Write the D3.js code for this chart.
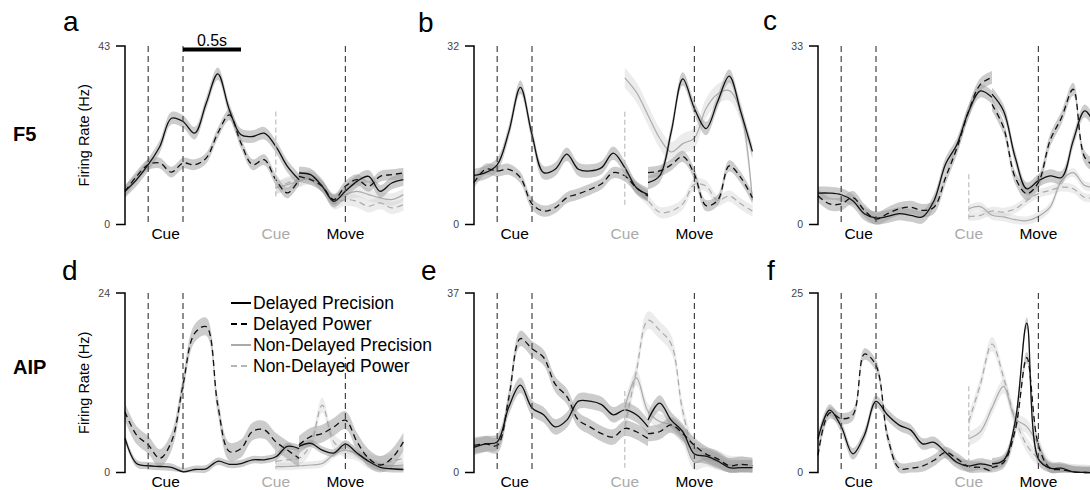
<!DOCTYPE html>
<html>
<head>
<meta charset="utf-8">
<script src="https://cdn.jsdelivr.net/npm/d3@7"></script>
<style>
  body { margin: 0; background: #fff; }
  svg text { font-family: "Liberation Sans", Arial, sans-serif; }
</style>
</head>
<body>
<svg id="chart" width="1090" height="490"></svg>
<script>
// time (s) of samples: cue-aligned delayed segment, move-aligned delayed segment, non-delayed trials
var tCue = [-0.2, -0.1, 0, 0.1, 0.2, 0.3, 0.4, 0.5, 0.6, 0.7, 0.8, 0.9, 1.0, 1.1, 1.2, 1.3];
var tMove = [1.3, 1.4, 1.5, 1.6, 1.7, 1.8, 1.9, 2.0, 2.1, 2.2];
var tNonDelayed = [1.1, 1.2, 1.3, 1.4, 1.5, 1.6, 1.7, 1.8, 1.9, 2.0, 2.1, 2.2];

// event times on the same axis
var cueOn = 0, cueOff = 0.3, nonDelayedCue = 1.1, moveOnset = 1.7;

var panelLetters = ["a", "b", "c", "d", "e", "f"];
var areaNames = ["F5", "AIP"];
var yMaxes = [43, 32, 33, 24, 37, 25];
var legendLabels = ["Delayed Precision", "Delayed Power", "Non-Delayed Precision", "Non-Delayed Power"];

// ---- panel a (F5)
var aDelPrecCue = [8.0, 10.8, 14.4, 18.8, 25.6, 24.8, 22.0, 29.2, 36.3, 27.6, 21.6, 21.2, 22.0, 18.8, 14.0, 10.8];
var aDelPrecMove = [12.4, 12.0, 9.2, 5.6, 8.0, 10.4, 11.6, 8.0, 10.0, 10.8];
var aDelPowCue = [8.0, 11.6, 14.4, 14.8, 12.6, 14.8, 14.4, 16.0, 22.0, 26.4, 19.6, 14.4, 15.6, 10.8, 7.6, 10.8];
var aDelPowMove = [11.6, 10.8, 9.2, 6.0, 9.2, 10.8, 9.2, 11.6, 12.0, 12.4];
var aNonPrec = [8.8, 9.6, 10.4, 11.2, 9.2, 6.0, 7.2, 8.0, 7.2, 6.4, 6.0, 7.2];
var aNonPow = [8.8, 10.0, 10.8, 11.6, 9.6, 5.2, 6.0, 5.6, 4.4, 5.2, 4.0, 4.8];
var aSem = [1.5, 1.3, 1.5, 1.5];
var aCueSpan = [6.0, 27.2];

// ---- panel b (F5)
var bDelPrecCue = [8.8, 9.3, 10.7, 16.6, 24.6, 16.1, 9.3, 9.9, 12.6, 9.9, 9.6, 10.2, 12.8, 10.2, 6.6, 5.4];
var bDelPrecMove = [7.5, 8.7, 16.6, 26.1, 20.8, 17.2, 22.0, 26.6, 20.2, 13.1];
var bDelPowCue = [7.5, 9.9, 9.6, 9.9, 8.4, 3.7, 2.4, 3.0, 4.8, 5.5, 6.3, 7.3, 9.3, 8.7, 6.6, 5.1];
var bDelPowMove = [9.3, 9.6, 10.7, 12.2, 9.0, 3.4, 4.3, 10.5, 8.4, 4.8];
var bNonPrec = [26.3, 23.7, 19.6, 15.5, 13.0, 14.5, 15.5, 20.8, 23.4, 24.0, 20.2, 4.3];
var bNonPow = [9.9, 6.6, 4.3, 2.2, 2.4, 3.7, 7.2, 6.9, 4.3, 5.1, 3.7, 2.4];
var bSem = [1.2, 1.0, 1.8, 1.0];
var bCueSpan = [3.4, 20.2];

// ---- panel c (F5)
var cDelPrecCue = [5.8, 5.8, 5.5, 4.4, 2.0, 1.2, 1.5, 2.0, 1.7, 1.4, 4.4, 11.2, 14.9, 21.0, 24.7, 23.5];
var cDelPrecMove = [24.1, 21.0, 12.4, 6.6, 8.1, 9.0, 8.7, 15.5, 21.0, 17.9];
var cDelPowCue = [5.3, 3.8, 3.8, 5.0, 2.6, 1.0, 2.0, 2.9, 3.2, 2.6, 3.2, 8.7, 14.3, 21.0, 25.9, 27.2];
var cDelPowMove = [22.2, 17.9, 8.7, 5.7, 7.8, 15.5, 19.8, 25.0, 12.4, 10.6];
var cNonPrec = [2.9, 3.3, 1.7, 1.4, 0.9, 0.7, 1.5, 3.2, 8.1, 9.6, 7.2, 6.9];
var cNonPow = [1.5, 1.7, 2.5, 2.3, 2.9, 4.4, 5.7, 6.3, 6.9, 6.6, 5.0, 5.0];
var cSem = [1.2, 1.2, 0.8, 0.8];
var cCueSpan = [0.7, 9.3];

// ---- panel d (AIP)
var dDelPrecCue = [4.6, 1.2, 0.9, 0.8, 0.7, 0.1, 0.4, 0.5, 1.5, 1.1, 1.2, 1.7, 1.7, 2.1, 3.5, 3.2];
var dDelPrecMove = [3.5, 3.9, 3.0, 2.6, 3.8, 2.6, 1.5, 0.7, 0.5, 0.4];
var dDelPowCue = [8.1, 5.0, 3.7, 1.9, 4.1, 11.7, 18.6, 19.5, 9.0, 2.8, 3.2, 5.5, 5.7, 4.1, 3.0, 1.9];
var dDelPowMove = [3.7, 4.8, 5.2, 6.1, 7.0, 4.1, 1.9, 1.0, 1.9, 4.1];
var dNonPrec = [0.8, 0.8, 0.9, 1.0, 1.2, 2.4, 3.0, 2.4, 1.5, 1.0, 0.9, 1.0];
var dNonPow = [1.5, 1.7, 1.9, 3.7, 9.0, 4.1, 3.0, 2.6, 1.5, 1.2, 1.5, 1.9];
var dSem = [0.5, 1.2, 0.5, 1.0];
var dCueSpan = [0.5, 4.0];

// ---- panel e (AIP)
var eDelPrecCue = [5.2, 5.9, 6.3, 13.5, 18.0, 13.3, 11.9, 9.4, 10.8, 14.7, 14.7, 14.0, 11.9, 12.9, 11.9, 9.4];
var eDelPrecMove = [10.8, 14.3, 10.8, 8.4, 3.8, 3.4, 2.4, 1.0, 1.0, 1.0];
var eDelPowCue = [5.6, 5.9, 5.6, 15.4, 27.6, 25.5, 23.7, 18.2, 15.7, 10.8, 9.4, 8.0, 7.3, 9.1, 8.4, 7.0];
var eDelPowMove = [8.0, 8.4, 9.8, 8.0, 5.6, 3.8, 2.8, 1.4, 1.7, 1.4];
var eNonPrec = [13.3, 19.5, 12.6, 10.5, 9.8, 7.3, 2.1, 2.8, 2.1, 1.4, 1.0, 1.0];
var eNonPow = [9.4, 20.9, 31.4, 29.3, 26.5, 12.6, 4.9, 3.5, 2.8, 1.7, 1.5, 1.4];
var eSem = [1.6, 1.6, 1.6, 1.8];
var eCueSpan = [1.0, 16.8];

// ---- panel f (AIP)
var fDelPrecCue = [4.7, 8.7, 6.4, 2.6, 5.2, 9.9, 8.0, 6.6, 5.9, 4.0, 4.2, 2.8, 1.4, 0.9, 1.2, 0.9];
var fDelPrecMove = [1.2, 1.7, 7.1, 20.8, 1.9, 0.6, 0.6, 0.1, 0, 0];
var fDelPowCue = [2.4, 8.3, 7.5, 8.0, 16.5, 14.9, 5.0, 0.6, 0.6, 0.9, 1.7, 2.8, 1.9, 0.8, 0.7, 0.1];
var fDelPowMove = [0.7, 1.4, 5.9, 16.0, 3.8, 0.6, 0.4, 0.1, 0, 0];
var fNonPrec = [4.7, 5.7, 9.0, 12.0, 7.5, 6.4, 3.8, 0.7, 0.4, 0.2, 0.1, 0];
var fNonPow = [7.1, 12.3, 17.9, 13.2, 7.5, 3.8, 1.9, 0.6, 0.2, 0.1, 0, 0];
var fSem = [0.8, 0.8, 1.0, 1.0];
var fCueSpan = [0.5, 12.0];

var panels = [
  {dp: [aDelPrecCue, aDelPrecMove], dw: [aDelPowCue, aDelPowMove], np: aNonPrec, nw: aNonPow, sem: aSem, span: aCueSpan},
  {dp: [bDelPrecCue, bDelPrecMove], dw: [bDelPowCue, bDelPowMove], np: bNonPrec, nw: bNonPow, sem: bSem, span: bCueSpan},
  {dp: [cDelPrecCue, cDelPrecMove], dw: [cDelPowCue, cDelPowMove], np: cNonPrec, nw: cNonPow, sem: cSem, span: cCueSpan},
  {dp: [dDelPrecCue, dDelPrecMove], dw: [dDelPowCue, dDelPowMove], np: dNonPrec, nw: dNonPow, sem: dSem, span: dCueSpan},
  {dp: [eDelPrecCue, eDelPrecMove], dw: [eDelPowCue, eDelPowMove], np: eNonPrec, nw: eNonPow, sem: eSem, span: eCueSpan},
  {dp: [fDelPrecCue, fDelPrecMove], dw: [fDelPowCue, fDelPowMove], np: fNonPrec, nw: fNonPow, sem: fSem, span: fCueSpan}
];

// layout
var axisX = [125, 474, 818];
var rowTop = [46, 293];
var rowBottom = [224.5, 472.5];
var pxPerSec = 116;
var letterX = [63, 418, 763, 62, 421, 767];
var letterY = [31, 32, 30, 280, 280, 280];

var svg = d3.select("#chart");
var curve = d3.curveCatmullRom.alpha(0.5);
var dash = "6,4";

panels.forEach(function(p, i) {
  var col = i % 3, row = Math.floor(i / 3);
  var x0 = axisX[col];
  var x = d3.scaleLinear().domain([-0.2, 2.2]).range([x0, x0 + 2.4 * pxPerSec]);
  var y = d3.scaleLinear().domain([0, yMaxes[i]]).range([rowBottom[row], rowTop[row]]);
  var g = svg.append("g");

  function band(ts, vs, s) {
    return d3.area().curve(curve)
      .x(function(d, k) { return x(ts[k]); })
      .y0(function(d) { return y(Math.max(0, d - s)); })
      .y1(function(d) { return y(d + s); })(vs);
  }
  function trace(ts, vs) {
    return d3.line().curve(curve)
      .x(function(d, k) { return x(ts[k]); })
      .y(function(d) { return y(Math.max(0, d)); })(vs);
  }

  // non-delayed trials (light)
  [[p.np, p.sem[2]], [p.nw, p.sem[3]]].forEach(function(s) {
    g.append("path").attr("d", band(tNonDelayed, s[0], s[1]))
      .attr("fill", "#cfcfcf").attr("fill-opacity", 0.4);
  });
  [[p.np, null], [p.nw, dash]].forEach(function(s) {
    g.append("path").attr("d", trace(tNonDelayed, s[0]))
      .attr("fill", "none").attr("stroke", "#ababab").attr("stroke-width", 1.2)
      .attr("stroke-dasharray", s[1]);
  });

  // delayed trials, cue- and move-aligned pieces
  [[p.dp, p.sem[0]], [p.dw, p.sem[1]]].forEach(function(s) {
    g.append("path").attr("d", band(tCue, s[0][0], s[1]))
      .attr("fill", "#9a9a9a").attr("fill-opacity", 0.5);
    g.append("path").attr("d", band(tMove, s[0][1], s[1]))
      .attr("fill", "#9a9a9a").attr("fill-opacity", 0.5);
  });
  [[p.dp, null], [p.dw, dash]].forEach(function(s) {
    [[tCue, s[0][0]], [tMove, s[0][1]]].forEach(function(seg) {
      g.append("path").attr("d", trace(seg[0], seg[1]))
        .attr("fill", "none").attr("stroke", "#111").attr("stroke-width", 1.3)
        .attr("stroke-dasharray", s[1]);
    });
  });

  // event markers
  [cueOn, cueOff, moveOnset].forEach(function(t) {
    g.append("line")
      .attr("x1", x(t)).attr("x2", x(t))
      .attr("y1", y(yMaxes[i])).attr("y2", y(0))
      .attr("stroke", "#444").attr("stroke-width", 1.2)
      .attr("stroke-dasharray", dash);
  });
  g.append("line")
    .attr("x1", x(nonDelayedCue)).attr("x2", x(nonDelayedCue))
    .attr("y1", y(p.span[1])).attr("y2", y(p.span[0]))
    .attr("stroke", "#bdbdbd").attr("stroke-width", 1.2)
    .attr("stroke-dasharray", "5,3");

  var labY = y(0) + 14;
  g.append("text").attr("x", x((cueOn + cueOff) / 2)).attr("y", labY)
    .attr("text-anchor", "middle").attr("font-size", 15.5).text("Cue");
  g.append("text").attr("x", x(nonDelayedCue)).attr("y", labY)
    .attr("text-anchor", "middle").attr("font-size", 15.5).attr("fill", "#aaa").text("Cue");
  g.append("text").attr("x", x(moveOnset)).attr("y", labY)
    .attr("text-anchor", "middle").attr("font-size", 15.5).text("Move");

  // y axis: only the end ticks
  var yAxis = d3.axisLeft(y).tickValues([0, yMaxes[i]]).tickSize(9).tickPadding(6);
  var ax = g.append("g").attr("transform", "translate(" + x0 + ",0)").call(yAxis);
  ax.select(".domain").attr("d", "M-9," + y(yMaxes[i]) + "H0V" + y(0) + "H-9")
    .attr("stroke", "#000").attr("stroke-width", 1.5);
  ax.selectAll(".tick line").remove();
  ax.selectAll(".tick text").attr("font-size", 10.5).attr("fill", "#444")
    .attr("font-family", "Liberation Sans, Arial, sans-serif");

  if (col === 0) {
    var midY = (rowTop[row] + rowBottom[row]) / 2;
    g.append("text")
      .attr("transform", "translate(" + (x0 - 36) + "," + midY + ") rotate(-90)")
      .attr("text-anchor", "middle").attr("font-size", 14.5).text("Firing Rate (Hz)");
    g.append("text").attr("x", 13).attr("y", row === 0 ? 141 : 374)
      .attr("font-size", 20).attr("font-weight", "bold").text(areaNames[row]);
  }

  g.append("text").attr("x", letterX[i]).attr("y", letterY[i])
    .attr("font-size", 28).text(panelLetters[i]);

  // scale bar in panel a
  if (i === 0) {
    g.append("line").attr("x1", x(cueOff)).attr("x2", x(cueOff + 0.5))
      .attr("y1", rowTop[0] + 3.5).attr("y2", rowTop[0] + 3.5)
      .attr("stroke", "#000").attr("stroke-width", 4);
    g.append("text").attr("x", x(cueOff + 0.25)).attr("y", rowTop[0] - 0.5)
      .attr("text-anchor", "middle").attr("font-size", 16).text("0.5s");
  }

  // legend in panel d
  if (i === 3) {
    var lx = 231;
    g.append("rect").attr("x", lx - 4).attr("y", rowTop[1] - 4)
      .attr("width", 214).attr("height", 68).attr("fill", "#fff");
    var sw = [["#000", null], ["#000", "6,4"], ["#aaa", null], ["#b5b5b5", "6,4"]];
    legendLabels.forEach(function(lab, k) {
      var by = 309 + k * 21;
      g.append("line").attr("x1", lx).attr("x2", lx + 20)
        .attr("y1", by - 6).attr("y2", by - 6)
        .attr("stroke", sw[k][0]).attr("stroke-width", 2)
        .attr("stroke-dasharray", sw[k][1]);
      g.append("text").attr("x", lx + 22).attr("y", by)
        .attr("font-size", 17.5).text(lab);
    });
  }
});
</script>
</body>
</html>
